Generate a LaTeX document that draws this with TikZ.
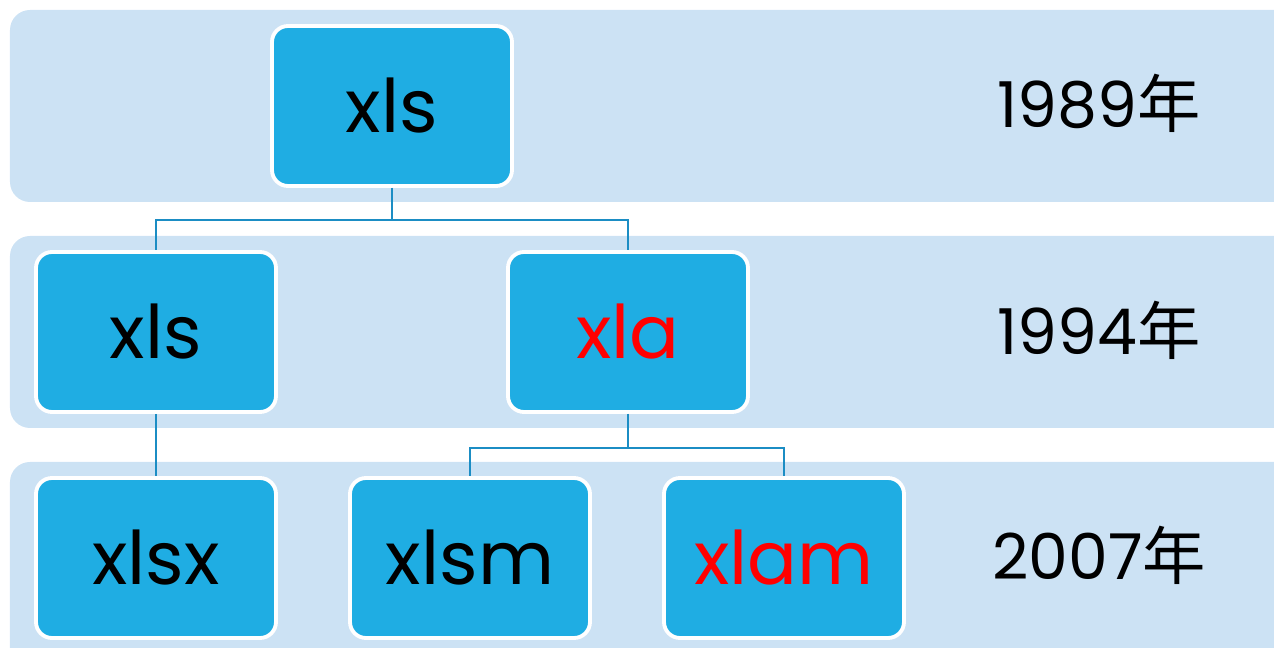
\documentclass[tikz,border=0pt]{standalone}
\usepackage{fontspec}
\setmainfont{Poppins}
\newfontfamily\cjk{Noto Sans CJK SC}
\definecolor{bandblue}{HTML}{CCE2F4}
\definecolor{boxblue}{HTML}{1FADE3}
\definecolor{linkblue}{HTML}{1B8DC4}

\begin{document}
\begin{tikzpicture}[
    band/.style = {fill=bandblue, rounded corners=0.4cm},
    fmt/.style = {draw=white, line width=2.2pt, fill=boxblue, rounded corners=0.32cm,
        minimum width=4.8cm, minimum height=3.2cm, inner sep=0pt,
        font=\fontsize{42}{50}\selectfont},
    year/.style = {font=\fontsize{36}{44}\selectfont},
    link/.style = {draw=linkblue, line width=1.5pt}
]
\useasboundingbox (0,0) rectangle (25.48,12.96);
\clip (0,0) rectangle (25.48,12.96);

% bands
\fill[band] (0.2, 8.92) rectangle (26, 12.76);
\fill[band] (0.2, 4.40) rectangle (26, 8.24);
\fill[band] (0.2, -0.5) rectangle (26, 3.72);

% formats
\node[fmt] (xls) at (7.84, 10.84) {xls};
\node[fmt] (xlsb) at (3.12, 6.32) {xls};
\node[fmt, text=red] (xla) at (12.56, 6.32) {xla};
\node[fmt] (xlsx) at (3.12, 1.80) {xlsx};
\node[fmt] (xlsm) at (9.40, 1.80) {xlsm};
\node[fmt, text=red] (xlam) at (15.68, 1.80) {xlam};

% years
\node[year] (y1) at (21.98, 10.90) {1989{\cjk 年}};
\node[year] (y2) at (21.98, 6.36) {1994{\cjk 年}};
\node[year] (y3) at (21.98, 1.86) {2007{\cjk 年}};

\draw[link] (xls.south) -- ++(0,-0.64) -| (xlsb.north);
\draw[link] (xls.south) -- ++(0,-0.64) -| (xla.north);
\draw[link] (xlsb.south) -- (xlsx.north);
\draw[link] (xla.south) -- ++(0,-0.68) -| (xlsm.north);
\draw[link] (xla.south) -- ++(0,-0.68) -| (xlam.north);

\end{tikzpicture}
\end{document}
